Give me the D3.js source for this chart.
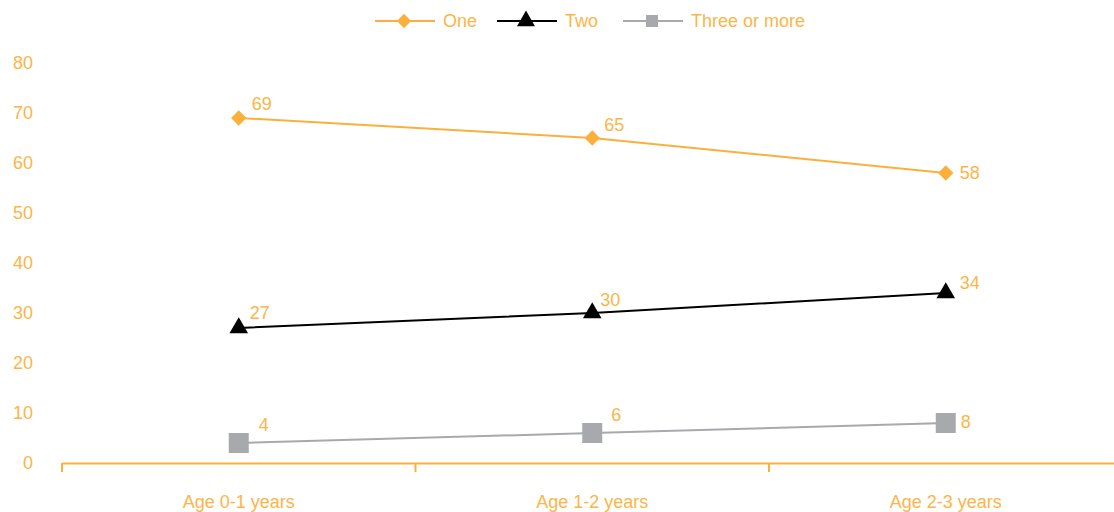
<!DOCTYPE html>
<html><head><meta charset="utf-8">
<script src="https://cdn.jsdelivr.net/npm/d3@7"></script>
<style>body{margin:0;background:#fff}svg{display:block;font-family:"Liberation Sans",Arial,sans-serif}</style>
</head><body><svg id="c" width="1114" height="512"></svg>
<script>
const categories = ["Age 0-1 years","Age 1-2 years","Age 2-3 years"];
const seriesNames = ["One","Two","Three or more"];
const one = [69,65,58];
const two = [27,30,34];
const threePlus = [4,6,8];
const yTicks = [0,10,20,30,40,50,60,70,80];

const orange = "#FBB03B";
const textColor = "#FCB548";
const colors = [orange, "#000000", "#A7A9AC"];
const shapes = [d3.symbolDiamond2, d3.symbolTriangle, d3.symbolSquare];
const sizes = [150, 150, 400];
const legendSizes = [130, 140, 144];
// label offsets: [dx, dy] for each point
const labelOff = [
  [[13,-14],[12,-13],[14,0]],
  [[11,-15],[8,-13],[14,-10]],
  [[20,-18],[19,-18],[15,-1]]
];
const series = [one, two, threePlus].map((v,i)=>({name:seriesNames[i], values:v, color:colors[i], shape:shapes[i], size:sizes[i], lsize:legendSizes[i]}));

const svg = d3.select("#c");
const x = d3.scaleBand().domain(categories).range([62,1122.5]);
const y = d3.scaleLinear().domain([0,80]).range([463,63]);

// y labels
svg.append("g").selectAll("text").data(yTicks).join("text")
  .attr("x",33).attr("y",d=>y(d)).attr("dy","0.35em").attr("text-anchor","end")
  .attr("fill",textColor).attr("font-size",18).text(d=>d);

// x axis
const xa = svg.append("g").attr("transform","translate(0,463)")
  .call(d3.axisBottom(x).tickSize(0).tickPadding(32).tickSizeOuter(0));
xa.select(".domain").attr("stroke",orange).attr("stroke-width",2);
xa.selectAll("text").attr("fill",textColor).attr("font-size",18).attr("font-family","\"Liberation Sans\",Arial,sans-serif");
const bounds = categories.map(c=>x(c));
xa.selectAll("line.sep").data(bounds).join("line").attr("class","sep")
  .attr("x1",d=>d).attr("x2",d=>d).attr("y1",0).attr("y2",9).attr("stroke",orange).attr("stroke-width",2);

const cx = c => x(c) + x.bandwidth()/2;

series.forEach((s,si)=>{
  const pts = s.values.map((v,i)=>({c:categories[i], v, i}));
  svg.append("path").datum(pts)
    .attr("d", d3.line().x(d=>cx(d.c)).y(d=>y(d.v)))
    .attr("fill","none").attr("stroke",s.color).attr("stroke-width",2);
  svg.append("g").selectAll("path").data(pts).join("path")
    .attr("transform",d=>`translate(${cx(d.c)},${y(d.v)})`)
    .attr("d", d3.symbol().type(s.shape).size(s.size)).attr("fill",s.color);
  svg.append("g").selectAll("text").data(pts).join("text")
    .attr("x",d=>cx(d.c) + labelOff[si][d.i][0])
    .attr("y",d=>y(d.v) + labelOff[si][d.i][1])
    .attr("dy","0.35em").attr("fill",textColor).attr("font-size",18).text(d=>d.v);
});

// legend
const legendX = [375, 497, 623];
const lg = svg.append("g");
series.forEach((s,i)=>{
  const g = lg.append("g").attr("transform",`translate(${legendX[i]},21)`);
  g.append("line").attr("x1",0).attr("x2",60).attr("stroke",s.color).attr("stroke-width",2);
  g.append("path").attr("transform","translate(29,0)").attr("d",d3.symbol().type(s.shape).size(s.lsize)).attr("fill",s.color);
  g.append("text").attr("x",68).attr("dy","0.35em").attr("fill",textColor).attr("font-size",18).text(s.name);
});
</script></body></html>
